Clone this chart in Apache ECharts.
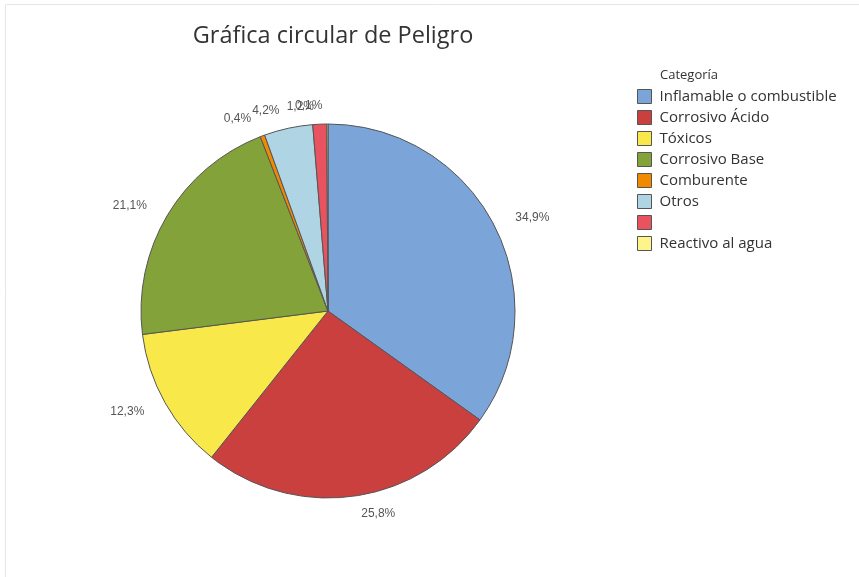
<!DOCTYPE html>
<html>
<head>
<meta charset="utf-8">
<script src="https://cdn.jsdelivr.net/npm/echarts@6/dist/echarts.min.js"></script>
<style>
  html, body { margin: 0; padding: 0; background: #fff; }
  #myChart { width: 859px; height: 577px; }
</style>
</head>
<body>
<div id="myChart"></div>
<script>
var categorias = ['Inflamable o combustible', 'Corrosivo Ácido', 'Tóxicos', 'Corrosivo Base', 'Comburente', 'Otros', ' ', 'Reactivo al agua'];
var porcentajes = [34.9, 25.8, 12.3, 21.1, 0.4, 4.2, 1.2, 0.1];
var colores = ['#7ba4d9', '#c9403f', '#f9e84a', '#84a23a', '#f28a00', '#afd4e4', '#e9525f', '#fdf58a'];

var myChart = echarts.init(document.getElementById('myChart'));
var option = {
    animation: false,
    title: {
        text: 'Gráfica circular de Peligro',
        left: 328,
        top: 19,
        textAlign: 'center',
        textStyle: { fontFamily: 'Open Sans', fontSize: 23.5, fontWeight: 'normal', color: '#333' }
    },
    graphic: [
        {
            type: 'rect',
            shape: { x: 5.5, y: 4.5, width: 860, height: 580 },
            style: { fill: 'none', stroke: '#e6e6e6', lineWidth: 1 }
        },
        {
            type: 'text',
            left: 660,
            top: 69,
            style: { text: 'Categoría', fontFamily: 'Open Sans', fontSize: 13, fill: '#333' }
        }
    ],
    legend: {
        orient: 'vertical',
        left: 632,
        top: 84,
        itemWidth: 14,
        itemHeight: 14,
        itemGap: 6,
        icon: 'rect',
        itemStyle: { borderColor: '#555', borderWidth: 1 },
        textStyle: { fontFamily: 'Open Sans', fontSize: 15, lineHeight: 14, height: 14, color: '#333', padding: [0, 0, 0, 3] },
        data: categorias
    },
    series: [
        {
            type: 'pie',
            center: [328, 311],
            radius: 187,
            startAngle: 90,
            clockwise: true,
            avoidLabelOverlap: false,
            itemStyle: { borderColor: '#555', borderWidth: 1 },
            label: {
                position: 'outside',
                formatter: function (p) { return p.value.toFixed(1).replace('.', ',') + '%'; },
                fontFamily: 'Liberation Sans Narrow, Liberation Sans',
                fontSize: 12,
                color: '#555'
            },
            labelLine: { show: false, length: 18, length2: 0 },
            labelLayout: { hideOverlap: false },
            emphasis: { disabled: true },
            data: categorias.map(function (c, i) {
                return { name: c, value: porcentajes[i], itemStyle: { color: colores[i] } };
            })
        }
    ]
};
myChart.setOption(option);
</script>
</body>
</html>
